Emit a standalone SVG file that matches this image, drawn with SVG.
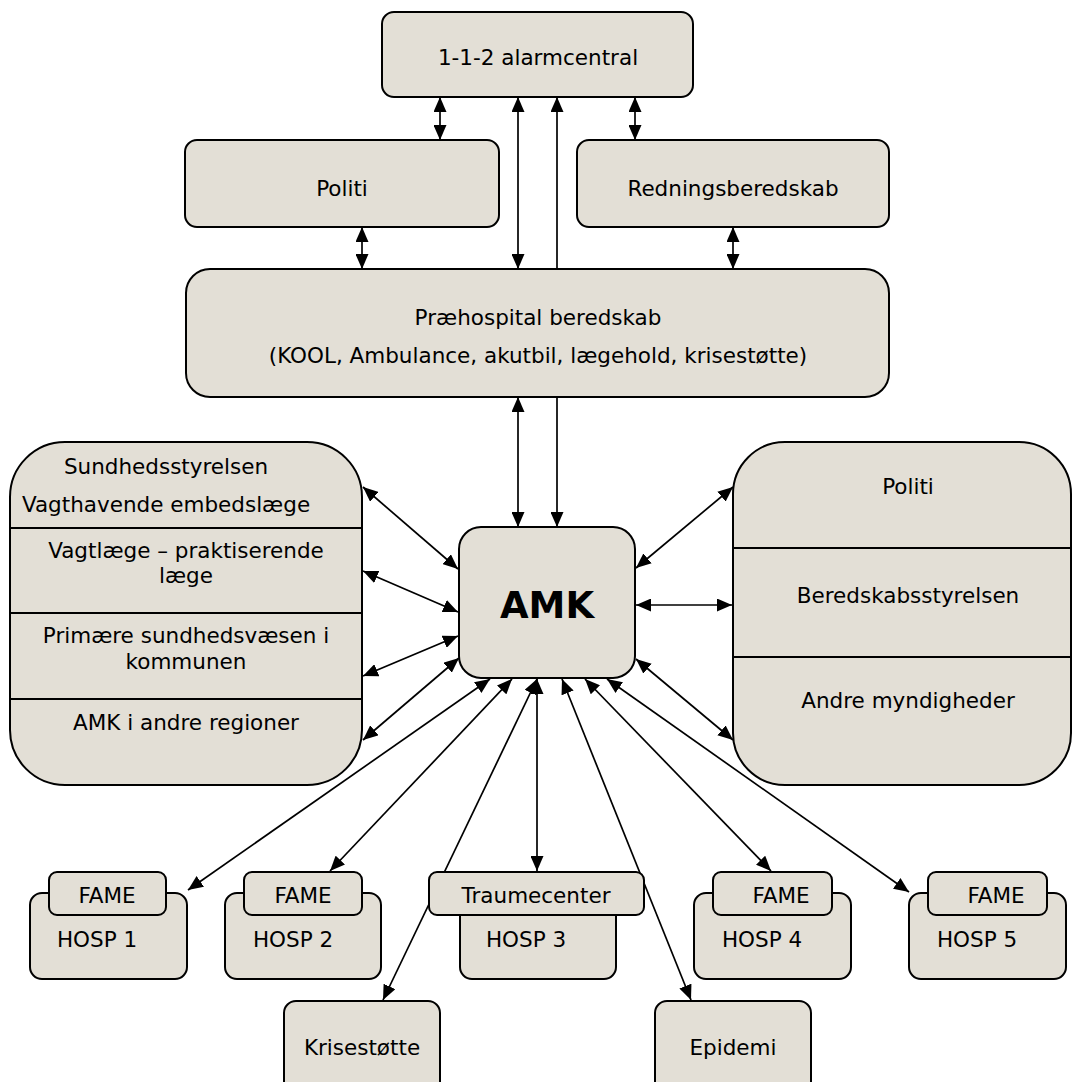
<svg xmlns="http://www.w3.org/2000/svg" width="1073" height="1082" viewBox="0 0 1073 1082">
<style>
.box{fill:#E3DFD6;stroke:#000;stroke-width:2}
.div{stroke:#000;stroke-width:2}
.t{font-family:"DejaVu Sans",Verdana,sans-serif;font-size:21.5px;fill:#000;text-anchor:middle}
.b{font-weight:bold;font-size:37px}
.c{stroke:#000;stroke-width:1.7;fill:none;marker-start:url(#ah);marker-end:url(#ah)}
</style>
<defs>
<marker id="ah" viewBox="0 0 15 13" refX="15" refY="6.5" markerWidth="15" markerHeight="13" markerUnits="userSpaceOnUse" orient="auto-start-reverse"><path d="M0,0 L15,6.5 L0,13 z" fill="#000"/></marker>
</defs>
<rect width="1073" height="1082" fill="#fff"/>
<g id="connectors">
<line class="c" x1="440" y1="97" x2="440" y2="140"/>
<line class="c" x1="635" y1="97" x2="635" y2="140"/>
<line class="c" x1="518" y1="97" x2="518" y2="269"/>
<line class="c" x1="557" y1="97" x2="557" y2="527"/>
<line class="c" x1="362" y1="227" x2="362" y2="269"/>
<line class="c" x1="733" y1="227" x2="733" y2="269"/>
<line class="c" x1="518" y1="397" x2="518" y2="527"/>
<line class="c" x1="363" y1="487" x2="458" y2="569"/>
<line class="c" x1="363" y1="571" x2="458" y2="612"/>
<line class="c" x1="363" y1="676" x2="458" y2="636"/>
<line class="c" x1="363" y1="740" x2="459" y2="658"/>
<line class="c" x1="636" y1="568" x2="733" y2="487"/>
<line class="c" x1="636" y1="605" x2="732" y2="605"/>
<line class="c" x1="636" y1="659" x2="733" y2="740"/>
<line class="c" x1="490" y1="679" x2="188" y2="890"/>
<line class="c" x1="512" y1="679" x2="330" y2="871"/>
<line class="c" x1="537" y1="679" x2="383" y2="1000"/>
<line class="c" x1="537" y1="679" x2="537" y2="871"/>
<line class="c" x1="562" y1="679" x2="691" y2="1000"/>
<line class="c" x1="585" y1="679" x2="771" y2="871"/>
<line class="c" x1="607" y1="679" x2="909" y2="892"/>
</g>
<g id="n-alarm"><rect class="box" x="382" y="12" width="311" height="85" rx="12"/><text class="t" x="538" y="65">1-1-2 alarmcentral</text></g>
<g id="n-politi"><rect class="box" x="185" y="140" width="314" height="87" rx="12"/><text class="t" x="342" y="196">Politi</text></g>
<g id="n-redning"><rect class="box" x="577" y="140" width="312" height="87" rx="12"/><text class="t" x="733" y="196">Redningsberedskab</text></g>
<g id="n-prehosp"><rect class="box" x="186" y="269" width="703" height="128" rx="24"/><text class="t" x="538" y="325">Præhospital beredskab</text><text class="t" x="538" y="363">(KOOL, Ambulance, akutbil, lægehold, krisestøtte)</text></g>
<g id="n-left"><rect class="box" x="10" y="442" width="352" height="343" rx="55"/>
<line class="div" x1="10" y1="528" x2="362" y2="528"/><line class="div" x1="10" y1="613" x2="362" y2="613"/><line class="div" x1="10" y1="699" x2="362" y2="699"/>
<text class="t" x="166" y="474">Sundhedsstyrelsen</text><text class="t" x="166" y="512">Vagthavende embedslæge</text>
<text class="t" x="186" y="558">Vagtlæge – praktiserende</text><text class="t" x="186" y="583">læge</text>
<text class="t" x="186" y="643">Primære sundhedsvæsen i</text><text class="t" x="186" y="669">kommunen</text>
<text class="t" x="186" y="730">AMK i andre regioner</text></g>
<g id="n-amk"><rect class="box" x="459" y="527" width="176" height="151" rx="22"/><text class="t b" x="547" y="618">AMK</text></g>
<g id="n-right"><rect class="box" x="733" y="442" width="338" height="343" rx="52"/>
<line class="div" x1="733" y1="548" x2="1071" y2="548"/><line class="div" x1="733" y1="657" x2="1071" y2="657"/>
<text class="t" x="908" y="494">Politi</text><text class="t" x="908" y="603">Beredskabsstyrelsen</text><text class="t" x="908" y="708">Andre myndigheder</text></g>
<g id="n-hosp1"><rect class="box" x="30" y="893" width="157" height="86" rx="12"/><rect class="box" x="49" y="872" width="117" height="43" rx="8"/><text class="t" x="107" y="903">FAME</text><text class="t" x="97" y="947">HOSP 1</text></g>
<g id="n-hosp2"><rect class="box" x="225" y="893" width="156" height="86" rx="12"/><rect class="box" x="244" y="872" width="118" height="43" rx="8"/><text class="t" x="303" y="903">FAME</text><text class="t" x="293" y="947">HOSP 2</text></g>
<g id="n-hosp3"><rect class="box" x="460" y="893" width="156" height="86" rx="12"/><rect class="box" x="429" y="872" width="215" height="43" rx="8"/><text class="t" x="536" y="903">Traumecenter</text><text class="t" x="526" y="947">HOSP 3</text></g>
<g id="n-hosp4"><rect class="box" x="694" y="893" width="157" height="86" rx="12"/><rect class="box" x="713" y="872" width="119" height="43" rx="8"/><text class="t" x="781" y="903">FAME</text><text class="t" x="762" y="947">HOSP 4</text></g>
<g id="n-hosp5"><rect class="box" x="909" y="893" width="157" height="86" rx="12"/><rect class="box" x="928" y="872" width="119" height="43" rx="8"/><text class="t" x="996" y="903">FAME</text><text class="t" x="977" y="947">HOSP 5</text></g>
<g id="n-krise"><rect class="box" x="284" y="1001" width="156" height="100" rx="12"/><text class="t" x="362" y="1055">Krisestøtte</text></g>
<g id="n-epidemi"><rect class="box" x="655" y="1001" width="156" height="100" rx="12"/><text class="t" x="733" y="1055">Epidemi</text></g>
</svg>
